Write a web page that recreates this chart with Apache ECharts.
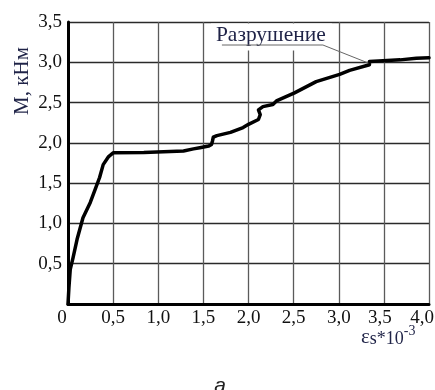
<!DOCTYPE html>
<html>
<head>
<meta charset="utf-8">
<script src="https://cdn.jsdelivr.net/npm/echarts@6/dist/echarts.min.js"></script>
<style>html,body{margin:0;padding:0;background:#fff}#c{width:435px;height:390px}</style>
</head>
<body>
<div id="c"></div>
<script>
// strain εs*10^-3
var strainX = [0, 0.01, 0.025, 0.055, 0.10, 0.166, 0.247, 0.30, 0.35, 0.39, 0.45, 0.50, 0.84, 1.28, 1.39, 1.46, 1.56, 1.59, 1.60, 1.61, 1.65, 1.80, 1.94, 2.00, 2.11, 2.13, 2.11, 2.16, 2.27, 2.31, 2.51, 2.75, 3.01, 3.12, 3.34, 3.34, 3.49, 3.68, 3.86, 4.0];
// moment M, kN·m
var momentY = [0, 0.2, 0.43, 0.57, 0.80, 1.07, 1.26, 1.42, 1.57, 1.73, 1.83, 1.876, 1.88, 1.90, 1.925, 1.94, 1.96, 1.98, 2.02, 2.07, 2.09, 2.13, 2.19, 2.23, 2.29, 2.35, 2.41, 2.45, 2.475, 2.52, 2.62, 2.76, 2.85, 2.90, 2.97, 3.01, 3.02, 3.03, 3.05, 3.055];
var xTicks = ['0', '0,5', '1,0', '1,5', '2,0', '2,5', '3,0', '3,5', '4,0'];
var yTicks = ['', '0,5', '1,0', '1,5', '2,0', '2,5', '3,0', '3,5'];
var failureLabel = 'Разрушение';
var failurePoint = [3.34, 2.99];
var yAxisTitle = 'М, кНм';

var serif = '"Liberation Serif", "DejaVu Serif", serif';
var navy = '#1f2347';
var chart = echarts.init(document.getElementById('c'), null, {renderer: 'canvas'});
var data = strainX.map(function (x, i) { return [x, momentY[i]]; });

chart.setOption({
  animation: false,
  backgroundColor: '#fff',
  grid: {left: 68, right: 6, top: 22, bottom: 86, containLabel: false, outerBoundsMode: 'none'},
  xAxis: {
    type: 'value', min: 0, max: 4, interval: 0.5,
    axisLine: {show: true, onZero: false, lineStyle: {color: '#000', width: 3}},
    axisTick: {show: false},
    splitLine: {show: true, lineStyle: {color: '#5a5a5a', width: 1.3}},
    axisLabel: {
      margin: 5, color: '#111', fontFamily: serif, fontSize: 19,
      hideOverlap: false,
      formatter: function (v) {
        var i = Math.round(v / 0.5);
        var t = xTicks[i];
        if (i === 0) return '{z|' + t + '}';
        if (i === 7) return '{s|' + t + '}';
        if (i === 8) return '{e|' + t + '}';
        return t;
      },
      rich: {
        z: {fontFamily: serif, fontSize: 19, color: '#111', padding: [0, 12, 0, 0]},
        s: {fontFamily: serif, fontSize: 19, color: '#111', padding: [0, 8, 0, 0]},
        e: {fontFamily: serif, fontSize: 19, color: '#111', padding: [0, 14, 0, 0]}
      }
    }
  },
  yAxis: {
    type: 'value', min: 0, max: 3.5, interval: 0.5,
    axisLine: {show: true, onZero: false, lineStyle: {color: '#000', width: 3}},
    axisTick: {show: false},
    splitLine: {show: true, lineStyle: {color: '#2a2a2a', width: 1.3}},
    axisLabel: {
      margin: 6, color: '#111', fontFamily: serif, fontSize: 19,
      formatter: function (v) { return yTicks[Math.round(v / 0.5)]; }
    }
  },
  series: [{
    type: 'line', data: data, showSymbol: false, smooth: false,
    lineStyle: {color: '#000', width: 3.5, join: 'round', cap: 'round'},
    z: 5
  }]
});

var tip = chart.convertToPixel({gridIndex: 0}, failurePoint);
var gx = chart.convertToPixel({gridIndex: 0}, [1.65, 3.5]);
var tx = gx[0], topY = gx[1];
chart.setOption({
  graphic: [
    {type: 'rect', shape: {x: tx - 6, y: topY + 1.5, width: 121, height: 27}, style: {fill: '#fff'}, z: 10},
    {type: 'text', x: tx - 1, y: topY + 13, style: {text: failureLabel, font: '21.5px ' + serif, fill: navy, textVerticalAlign: 'middle'}, z: 11},
    {type: 'line', shape: {x1: tx + 5, y1: topY + 23, x2: tx + 106, y2: topY + 23}, style: {stroke: '#666', lineWidth: 1}, z: 11},
    {type: 'line', shape: {x1: tx + 106, y1: topY + 23, x2: tip[0] - 1, y2: tip[1]}, style: {stroke: '#666', lineWidth: 1}, z: 11},
    {type: 'text', x: 22, y: 81, rotation: Math.PI / 2,
      style: {text: yAxisTitle, font: '21px ' + serif, fill: navy, textAlign: 'center', textVerticalAlign: 'middle'}, z: 11},
    {type: 'text', x: 361, y: 348,
      style: {
        text: '{a|ε}{b|s*10}{c|-3}',
        textVerticalAlign: 'bottom',
        rich: {
          a: {fontFamily: serif, fontSize: 21, fill: navy, color: navy, lineHeight: 24, verticalAlign: 'bottom'},
          b: {fontFamily: serif, fontSize: 18, fill: navy, color: navy, lineHeight: 24, verticalAlign: 'bottom'},
          c: {fontFamily: serif, fontSize: 14, fill: navy, color: navy, lineHeight: 24, verticalAlign: 'top'}
        }
      }, z: 11},
    {type: 'text', x: 220, y: 397,
      style: {text: 'а', font: 'italic 21px "Liberation Sans", Arial, sans-serif', fill: '#222', textAlign: 'center', textVerticalAlign: 'bottom'}, z: 11}
  ]
});
</script>
</body>
</html>
